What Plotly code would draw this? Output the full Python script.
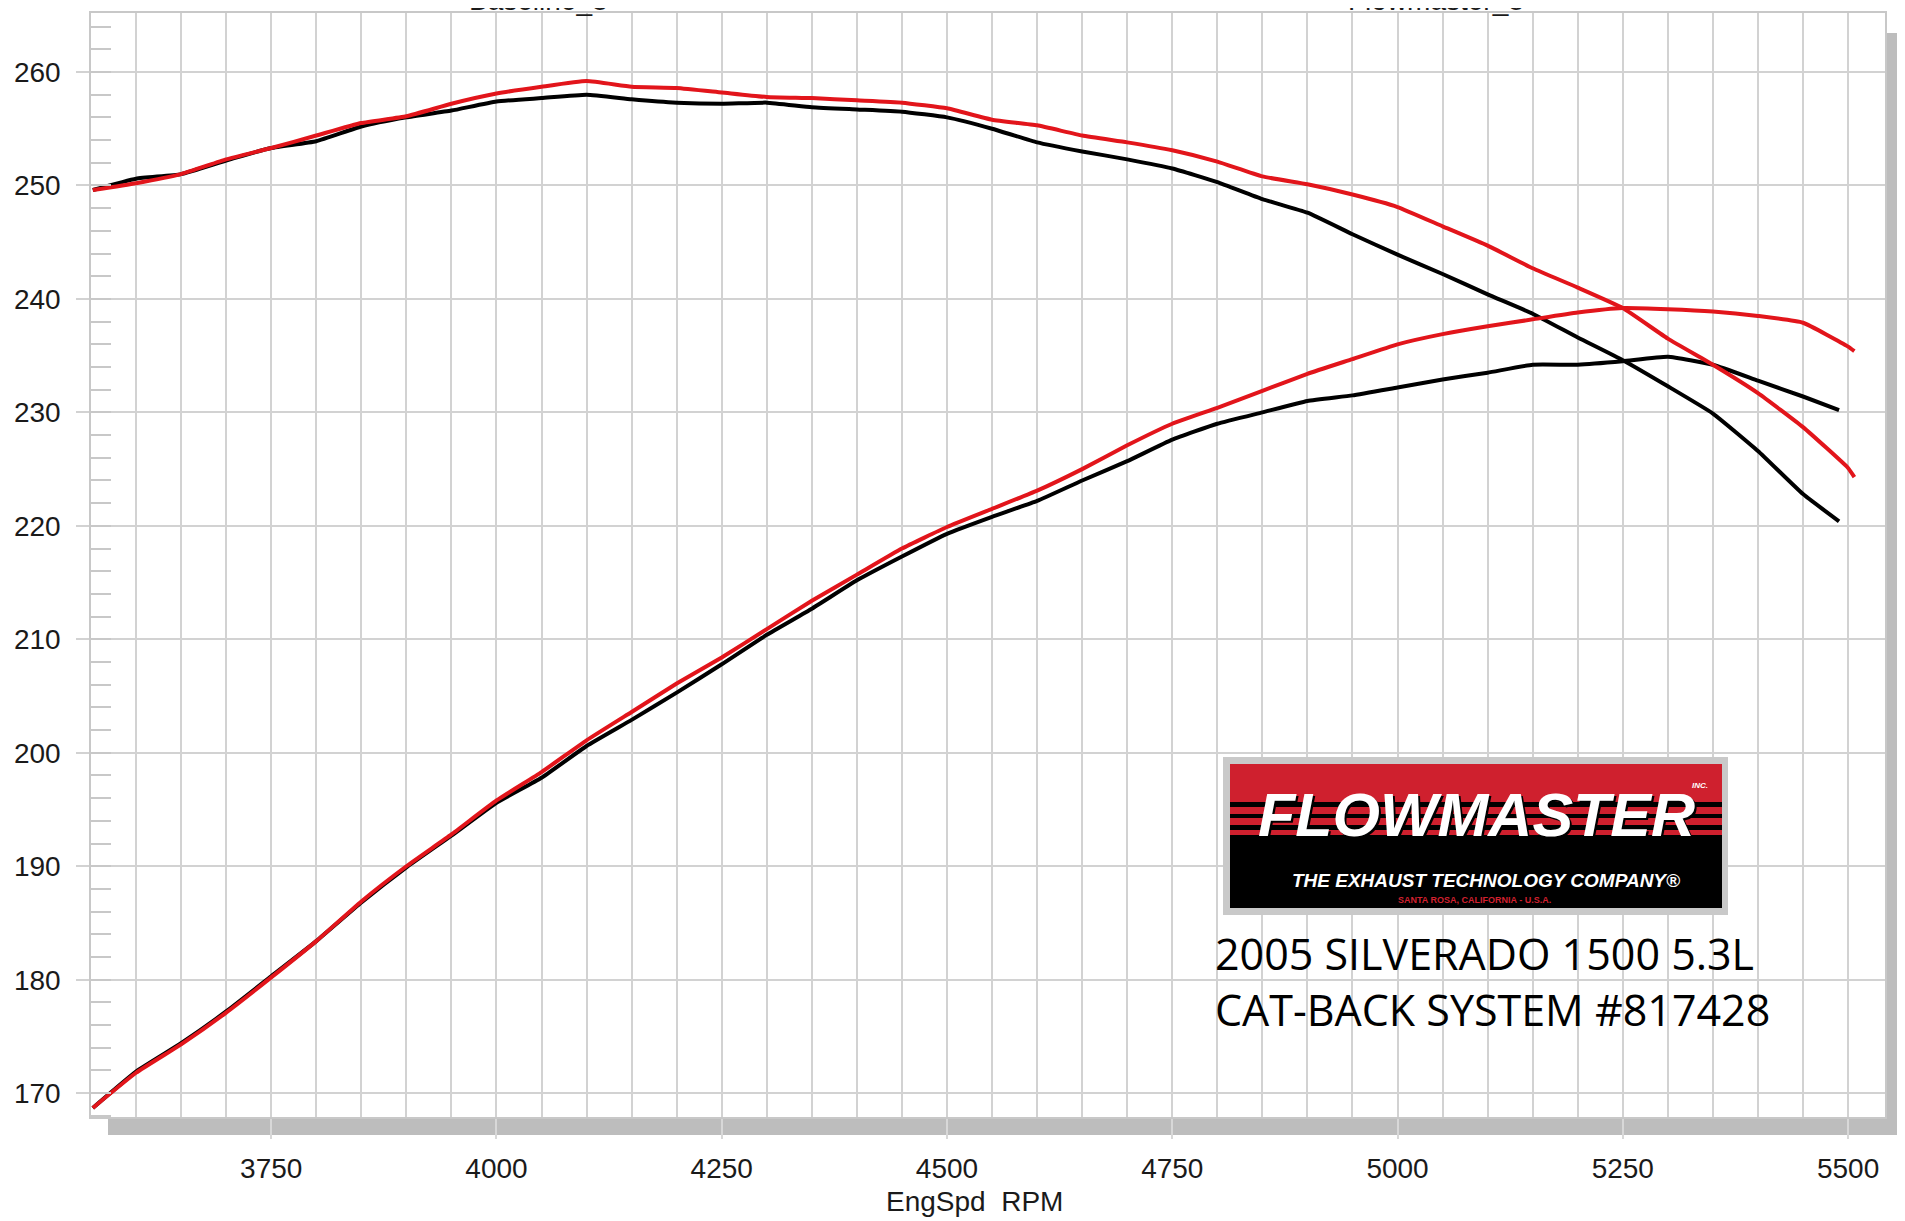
import plotly.graph_objects as go

# ---------------- data ----------------
rpm_base = [3552, 3600, 3650, 3700, 3750, 3800, 3850, 3900, 3950, 4000,
            4050, 4100, 4150, 4200, 4250, 4300, 4350, 4400, 4450, 4500,
            4550, 4600, 4650, 4700, 4750, 4800, 4850, 4900, 4950, 5000,
            5050, 5100, 5150, 5200, 5250, 5300, 5350, 5400, 5450, 5490]
base_tq = [249.6, 250.6, 251.0, 252.2, 253.3, 253.9, 255.2, 256.0, 256.6, 257.4,
           257.7, 258.0, 257.6, 257.3, 257.2, 257.3, 256.9, 256.7, 256.5, 256.0,
           255.0, 253.8, 253.0, 252.3, 251.5, 250.3, 248.8, 247.6, 245.7, 243.9,
           242.2, 240.4, 238.7, 236.6, 234.6, 232.3, 229.9, 226.6, 222.8, 220.4]
base_hp = [168.7, 171.9, 174.4, 177.2, 180.3, 183.4, 186.8, 189.9, 192.7, 195.6,
           197.8, 200.6, 202.9, 205.3, 207.8, 210.4, 212.7, 215.2, 217.3, 219.3,
           220.8, 222.2, 224.0, 225.7, 227.6, 229.0, 230.0, 231.0, 231.5, 232.2,
           232.9, 233.5, 234.2, 234.2, 234.5, 234.9, 234.2, 232.8, 231.4, 230.2]

rpm_flow = [3552, 3600, 3650, 3700, 3750, 3800, 3850, 3900, 3950, 4000,
            4050, 4100, 4150, 4200, 4250, 4300, 4350, 4400, 4450, 4500,
            4550, 4600, 4650, 4700, 4750, 4800, 4850, 4900, 4950, 5000,
            5050, 5100, 5150, 5200, 5250, 5300, 5350, 5400, 5450, 5500, 5507]
flow_tq = [249.6, 250.2, 251.0, 252.3, 253.3, 254.4, 255.5, 256.1, 257.2, 258.1,
           258.7, 259.2, 258.7, 258.6, 258.2, 257.8, 257.7, 257.5, 257.3, 256.8,
           255.8, 255.3, 254.4, 253.8, 253.1, 252.1, 250.8, 250.1, 249.2, 248.1,
           246.4, 244.7, 242.7, 241.0, 239.2, 236.5, 234.2, 231.7, 228.7, 225.1, 224.3]
flow_hp = [168.7, 171.8, 174.3, 177.1, 180.2, 183.4, 186.9, 190.0, 192.8, 195.8,
           198.3, 201.1, 203.6, 206.1, 208.4, 210.9, 213.4, 215.7, 218.0, 219.9,
           221.5, 223.1, 225.0, 227.1, 229.0, 230.4, 231.9, 233.4, 234.7, 236.0,
           236.9, 237.6, 238.2, 238.8, 239.2, 239.1, 238.9, 238.5, 237.9, 235.8, 235.4]

x_ticks = [3750, 4000, 4250, 4500, 4750, 5000, 5250, 5500]
y_ticks = [170, 180, 190, 200, 210, 220, 230, 240, 250, 260]
series_names = ["Baseline_8", "Flowmaster_8"]
x_title = "EngSpd  RPM"
caption_lines = ["2005 SILVERADO 1500 5.3L", "CAT-BACK SYSTEM #817428"]

# ---------------- layout geometry ----------------
# the page body adds an 8px offset, so the figure is 8px smaller and
# all reference pixel positions are shifted by -8
OFF = 8
FW, FH = 1905 - OFF, 1221 - OFF
ML, MT = 91 - OFF, 13 - OFF
MR = FW - (1885 - OFF)
MB = FH - (1117 - OFF)
PW = FW - ML - MR
PH = FH - MT - MB


def px(x):
    return (x - OFF - ML) / PW


def py(y):
    return (FH - MB - (y - OFF)) / PH


RED = "#e2151b"
GRID = "#d2d2d2"
TICKFONT = dict(family="Liberation Sans, Arial", size=28, color="#1a1a1a")

fig = go.Figure()
for xs, tq, hp, col in [(rpm_base, base_tq, base_hp, "#000000"),
                        (rpm_flow, flow_tq, flow_hp, RED)]:
    fig.add_trace(go.Scatter(x=xs, y=tq, mode="lines",
                             line=dict(color=col, width=4, shape="spline", smoothing=0.4),
                             showlegend=False, hoverinfo="skip"))
    fig.add_trace(go.Scatter(x=xs, y=hp, mode="lines",
                             line=dict(color=col, width=4, shape="spline", smoothing=0.4),
                             showlegend=False, hoverinfo="skip"))

shapes = []
# 3D shadow bars (bottom and right)
shapes.append(dict(type="rect", xref="paper", yref="paper", layer="below",
                   x0=px(108), x1=px(1902), y0=py(1135), y1=py(1118),
                   fillcolor="#bdbdbd", line=dict(width=0)))
shapes.append(dict(type="rect", xref="paper", yref="paper", layer="below",
                   x0=px(1886), x1=px(1902), y0=py(1135), y1=py(33),
                   fillcolor="#bdbdbd", line=dict(width=0)))

# Flowmaster logo
shapes.append(dict(type="rect", xref="paper", yref="paper", layer="above",
                   x0=px(1223), x1=px(1728), y0=py(915), y1=py(757),
                   fillcolor="#c9c9c9", line=dict(width=0)))
shapes.append(dict(type="rect", xref="paper", yref="paper", layer="above",
                   x0=px(1230), x1=px(1722), y0=py(908), y1=py(764),
                   fillcolor="#000000", line=dict(width=0)))
shapes.append(dict(type="rect", xref="paper", yref="paper", layer="above",
                   x0=px(1230), x1=px(1722), y0=py(802), y1=py(764),
                   fillcolor="#cf202e", line=dict(width=0)))
for (a, b) in [(807, 814), (818, 825), (830, 835)]:
    shapes.append(dict(type="rect", xref="paper", yref="paper", layer="above",
                       x0=px(1230), x1=px(1722), y0=py(b), y1=py(a),
                       fillcolor="#cf202e", line=dict(width=0)))

annotations = []
# series labels cut off at top
for name, cx in zip(series_names, [538, 1436]):
    annotations.append(dict(text=name, xref="paper", yref="paper", x=px(cx), y=py(18),
                            xanchor="center", yanchor="bottom", showarrow=False,
                            font=TICKFONT))
# x axis title
annotations.append(dict(text=x_title, xref="paper", yref="paper", x=px(974), y=py(1201),
                        xanchor="center", yanchor="middle", showarrow=False,
                        font=TICKFONT))
# logo texts
annotations.append(dict(text="<b><i>FLOWMASTER</i></b>", xref="paper", yref="paper",
                        x=px(1476), y=py(815), xanchor="center", yanchor="middle",
                        showarrow=False,
                        font=dict(family="Liberation Sans, Arial",
                                  size=61, color="#ffffff", shadow="2px 2px 0px #000000")))
annotations.append(dict(text="<b><i>THE EXHAUST TECHNOLOGY COMPANY®</i></b>", xref="paper",
                        yref="paper", x=px(1486), y=py(880), xanchor="center",
                        yanchor="middle", showarrow=False,
                        font=dict(family="Liberation Sans, Arial", size=19, color="#ffffff")))
annotations.append(dict(text="<b>SANTA ROSA, CALIFORNIA - U.S.A.</b>", xref="paper",
                        yref="paper", x=px(1474), y=py(900), xanchor="center",
                        yanchor="middle", showarrow=False,
                        font=dict(family="Liberation Sans, Arial", size=9, color="#d2202f")))
annotations.append(dict(text="<b><i>INC.</i></b>", xref="paper", yref="paper",
                        x=px(1700), y=py(785), xanchor="center", yanchor="middle",
                        showarrow=False,
                        font=dict(family="Liberation Sans, Arial", size=8, color="#ffffff")))
# caption lines
for line, cy in zip(caption_lines, [953, 1009]):
    annotations.append(dict(text=line, xref="paper", yref="paper", x=px(1213), y=py(cy),
                            xanchor="left", yanchor="middle", showarrow=False,
                            font=dict(family="Open Sans, Lato, Noto Sans", size=43,
                                      color="#000000")))

fig.update_layout(
    width=FW, height=FH,
    margin=dict(l=ML, r=MR, t=MT, b=MB, pad=0, autoexpand=False),
    paper_bgcolor="#ffffff", plot_bgcolor="#ffffff",
    showlegend=False,
    shapes=shapes,
    annotations=annotations,
)
fig.update_xaxes(range=[3550, 5541], tickmode="array", tickvals=x_ticks,
                 ticktext=[str(v) for v in x_ticks], automargin=False,
                 showgrid=True, gridcolor=GRID, gridwidth=1.5,
                 ticks="outside", ticklen=20, tickcolor="#d8d8d8", tickwidth=1.5,
                 ticklabelstandoff=6,
                 minor=dict(dtick=50, tick0=3550, showgrid=True, gridcolor=GRID,
                            gridwidth=1.5, ticks=""),
                 showline=True, linecolor="#c8c8c8", linewidth=1.5, mirror=True,
                 zeroline=False, tickfont=TICKFONT)
fig.update_yaxes(range=[167.9, 265.2], tickmode="array", tickvals=y_ticks,
                 ticktext=[str(v) for v in y_ticks], automargin=False,
                 showgrid=True, gridcolor=GRID, gridwidth=1.5,
                 ticks="outside", ticklen=13, tickcolor=GRID, tickwidth=1.5,
                 ticklabelstandoff=10,
                 minor=dict(dtick=2, tick0=170, showgrid=False, ticks="inside",
                            ticklen=20, tickcolor="#c8c8c8", tickwidth=1.5),
                 showline=True, linecolor="#c8c8c8", linewidth=1.5, mirror=True,
                 zeroline=False, tickfont=TICKFONT)

fig.write_html("out.html")
